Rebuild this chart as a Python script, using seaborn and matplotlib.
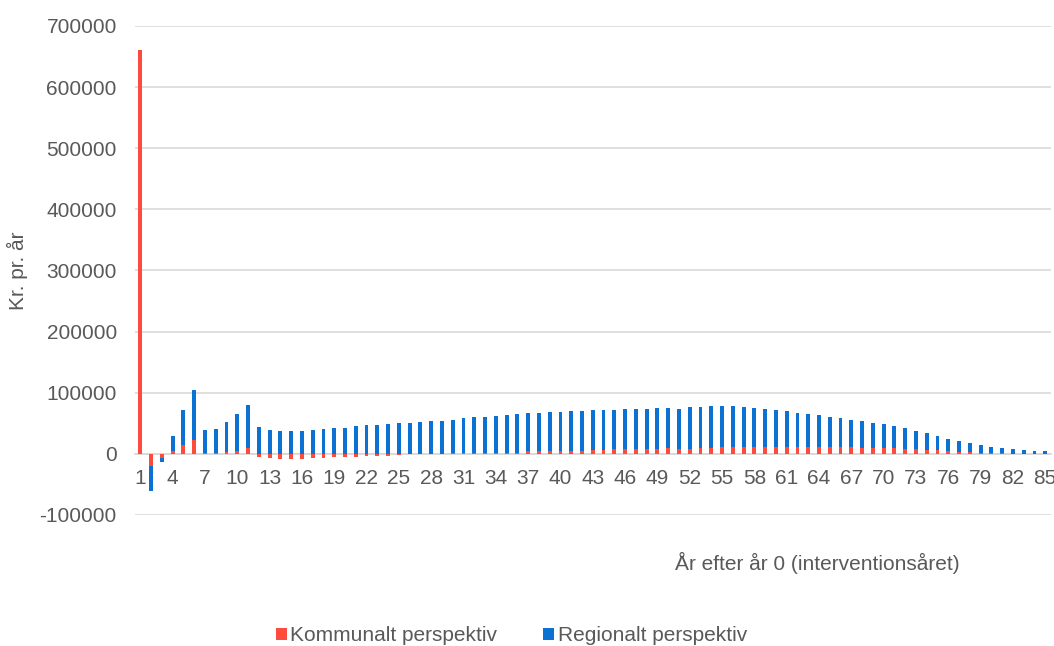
import numpy as np
import pandas as pd
import matplotlib
matplotlib.use("Agg")
import matplotlib.pyplot as plt
from matplotlib.patches import Patch
import seaborn as sns

# Years after year 0
years = [str(i) for i in range(1, 86)]

# Municipal perspective (kr. per year)
kommunalt = [
    660000, -20000, -6000, 4000, 14000, 23000, 2000, 1000, 3000, 5500,
    9000, -5000, -7500, -8500, -7600, -7600, -6500, -6000, -5500, -4500,
    -4500, -3800, -3300, -2700, -2000, -1000, -500, 0, 500, 1000,
    1500, 1500, 1500, 1500, 2000, 2200, 4400, 4400, 5000, 5500,
    5500, 5500, 6000, 7000, 7600, 7600, 7600, 8700, 8700, 9300,
    7600, 8700, 9300, 10400, 11000, 11000, 11500, 11500, 12000, 12000,
    12000, 12000, 11500, 11500, 11000, 11000, 11000, 10400, 9300, 9300,
    9300, 8700, 8200, 6500, 6000, 5000, 3800, 3300, 1600, 1000,
    800, 500, 300, 200, 100,
]

# Regional perspective (kr. per year)
regionalt = [
    0, -40000, -7000, 26000, 58000, 81500, 37000, 39000, 49000, 60500,
    71000, 43500, 39000, 37000, 37000, 38000, 39000, 40000, 41500, 42500,
    45000, 47000, 48000, 49000, 50000, 51000, 52500, 53500, 54000, 54500,
    56500, 58000, 59500, 61000, 62000, 62800, 62100, 63100, 63000, 63500,
    64500, 65000, 65000, 65000, 64900, 65400, 65900, 65300, 66300, 66200,
    66400, 67300, 67200, 67100, 66500, 66500, 65000, 64000, 61500, 59500,
    58000, 55500, 54000, 52000, 49500, 47000, 44000, 43100, 41200, 39200,
    36700, 34300, 29800, 27500, 22500, 19500, 16700, 14700, 13400, 10000,
    9200, 8200, 5700, 5300, 4300,
]

series_names = ["Kommunalt perspektiv", "Regionalt perspektiv"]
colors = ["#FF4B3E", "#0B72D3"]
ytick_values = list(range(-100000, 700001, 100000))

text_color = "#595959"
grid_color = "#D9D9D9"

sns.set_theme(style="white")
plt.rcParams["font.family"] = ["Liberation Sans", "DejaVu Sans"]
plt.rcParams["text.color"] = text_color
plt.rcParams["axes.labelcolor"] = text_color
plt.rcParams["xtick.color"] = text_color
plt.rcParams["ytick.color"] = text_color

df = pd.DataFrame({"year": years, "kommunalt": kommunalt, "regionalt": regionalt})

# Stacking: positives build upward from 0, negatives downward from 0
k = df["kommunalt"].to_numpy(dtype=float)
r = df["regionalt"].to_numpy(dtype=float)
r_bottom = np.where(r >= 0, np.maximum(k, 0), np.minimum(k, 0))

fig = plt.figure(figsize=(10.54, 6.46), dpi=100)
ax = fig.add_axes([0.128, 0.2028, 0.8688, 0.757])

sns.barplot(data=df, x="year", y="kommunalt", order=years, color=colors[0],
            saturation=1, width=0.36, errorbar=None, ax=ax, linewidth=0, zorder=3)
sns.barplot(data=df, x="year", y="regionalt", order=years, color=colors[1],
            saturation=1, width=0.36, errorbar=None, ax=ax, linewidth=0,
            bottom=r_bottom, zorder=3)

ax.set_ylim(-100000, 700000)
ax.set_xlim(-0.5, len(years) - 0.5)
ax.set_yticks(ytick_values)
ax.set_yticklabels([str(v) for v in ytick_values])
ax.yaxis.grid(True, color=grid_color, linewidth=1.2, zorder=0)
ax.set_axisbelow(True)

for side in ["top", "right", "left"]:
    ax.spines[side].set_visible(False)
ax.spines["bottom"].set_position(("data", 0))
ax.spines["bottom"].set_color(grid_color)
ax.spines["bottom"].set_linewidth(1.2)
ax.spines["bottom"].set_zorder(1)

# Show every third year label
ax.set_xticks(range(len(years)))
ax.set_xticklabels([y if (i % 3 == 0) else "" for i, y in enumerate(years)])
ax.tick_params(axis="x", length=0, pad=11, labelsize=15)
ax.tick_params(axis="y", length=0, pad=13, labelsize=15)

ax.set_ylabel("Kr. pr. år", fontsize=15)
ax.yaxis.set_label_coords(-0.128, 0.5)
ax.yaxis.label.set_va("center")
ax.set_xlabel("År efter år 0 (interventionsåret)", fontsize=15)
ax.xaxis.set_label_coords(0.7455, -0.098)
ax.xaxis.label.set_va("center")

handles = [Patch(facecolor=c, edgecolor="none") for c in colors]
fig.legend(handles, series_names, loc="center", bbox_to_anchor=(0.485, 0.016),
           ncol=2, frameon=False, fontsize=15, handlelength=0.55, handleheight=0.55,
           handletextpad=0.15, columnspacing=2.2, labelcolor=text_color)

fig.savefig("out.png", dpi=100)
